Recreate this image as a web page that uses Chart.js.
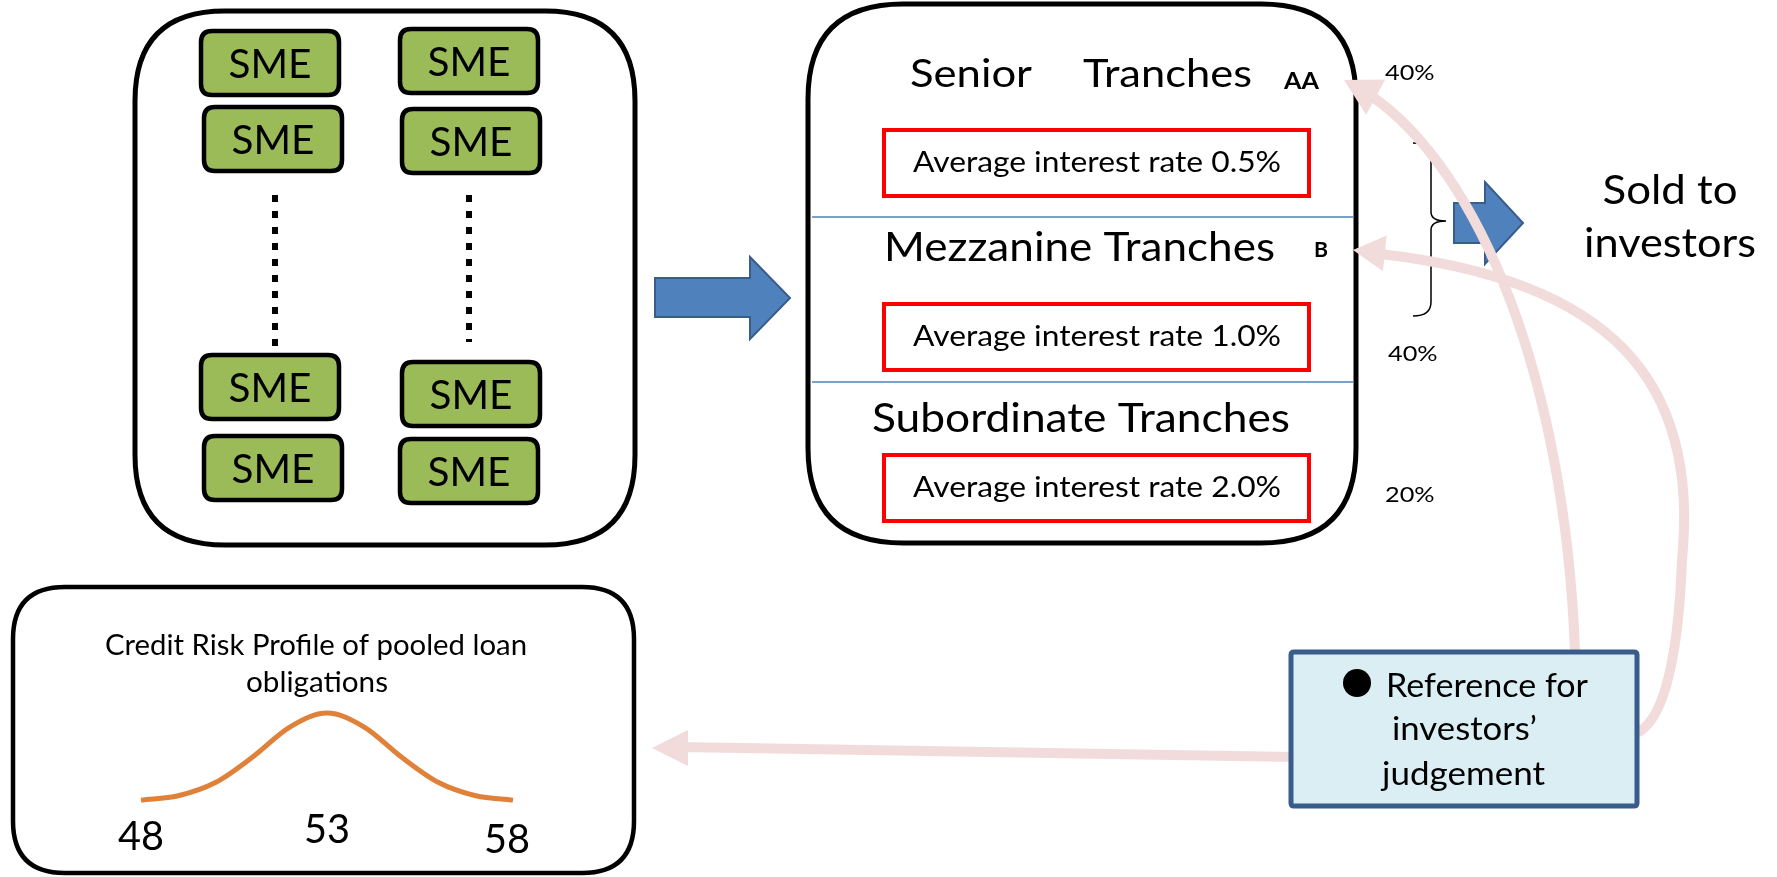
<!DOCTYPE html>
<html>
<head>
<meta charset="utf-8">
<script src="https://cdn.jsdelivr.net/npm/chart.js"></script>
<style>
  body { margin: 0; background: #fff; }
  canvas { display: block; }
</style>
</head>
<body>
<canvas id="myChart" width="1777" height="877"></canvas>
<script>
// credit risk profile of the pooled loans (bell curve)
const riskScores = [48, 49, 50, 51, 52, 53, 54, 55, 56, 57, 58];
const riskDensity = [1, 6, 21, 50, 84, 100, 84, 50, 21, 6, 1];
const riskTicks = [48, 53, 58];

// tranche structure
const trancheNames = ['Senior', 'Mezzanine Tranches', 'Subordinate Tranches'];
const trancheRatings = ['AA', 'B', ''];
const trancheRates = ['0.5', '1.0', '2.0'];
const trancheShares = ['40%', '40%', '20%'];

const FONT = 'Lato, "Open Sans", sans-serif';

function txt(ctx, str, x, y, size, w, opts = {}) {
    ctx.save();
    ctx.font = `${opts.bold ? 'bold ' : ''}${size}px ${FONT}`;
    ctx.fillStyle = opts.color || '#000';
    ctx.textBaseline = 'alphabetic';
    ctx.textAlign = 'left';
    const m = ctx.measureText(str).width;
    let sx = w ? w / m : 1;
    sx = Math.max(0.8, Math.min(1.15, sx));
    const drawnW = m * sx;
    let left = x;
    if (opts.align === 'center') left = x - drawnW / 2;
    ctx.translate(left, y);
    ctx.scale(sx, 1);
    ctx.fillText(str, 0, 0);
    ctx.restore();
}

function roundRect(ctx, x, y, w, h, r) {
    ctx.beginPath();
    ctx.moveTo(x + r, y);
    ctx.lineTo(x + w - r, y);
    ctx.quadraticCurveTo(x + w, y, x + w, y + r);
    ctx.lineTo(x + w, y + h - r);
    ctx.quadraticCurveTo(x + w, y + h, x + w - r, y + h);
    ctx.lineTo(x + r, y + h);
    ctx.quadraticCurveTo(x, y + h, x, y + h - r);
    ctx.lineTo(x, y + r);
    ctx.quadraticCurveTo(x, y, x + r, y);
    ctx.closePath();
}

function blockArrow(ctx, x0, x1, x2, yTop, yShaftTop, yShaftBot, yBot) {
    const yMid = (yTop + yBot) / 2;
    ctx.beginPath();
    ctx.moveTo(x0, yShaftTop);
    ctx.lineTo(x1, yShaftTop);
    ctx.lineTo(x1, yTop);
    ctx.lineTo(x2, yMid);
    ctx.lineTo(x1, yBot);
    ctx.lineTo(x1, yShaftBot);
    ctx.lineTo(x0, yShaftBot);
    ctx.closePath();
    ctx.fillStyle = '#4F81BD';
    ctx.fill();
    ctx.strokeStyle = '#385D8A';
    ctx.lineWidth = 2;
    ctx.stroke();
}

function arrowHead(ctx, tipX, tipY, fromX, fromY, len, half) {
    const dx = tipX - fromX, dy = tipY - fromY;
    const d = Math.hypot(dx, dy);
    const ux = dx / d, uy = dy / d;
    const bx = tipX - ux * len, by = tipY - uy * len;
    ctx.beginPath();
    ctx.moveTo(tipX, tipY);
    ctx.lineTo(bx - uy * half, by + ux * half);
    ctx.lineTo(bx + uy * half, by - ux * half);
    ctx.closePath();
    ctx.fill();
}

const diagram = {
    id: 'diagram',
    beforeDatasetsDraw(chart) {
        const ctx = chart.ctx;
        ctx.save();
        ctx.fillStyle = '#fff';
        ctx.fillRect(0, 0, chart.width, chart.height);

        // pool of SMEs
        ctx.lineWidth = 5;
        ctx.strokeStyle = '#000';
        roundRect(ctx, 135, 11, 500, 534, 90);
        ctx.stroke();

        const smeBoxes = [
            [201, 31], [204, 107], [201, 355], [204, 436],
            [400, 29], [402, 109], [402, 362], [400, 439]
        ];
        smeBoxes.forEach(([x, y]) => {
            roundRect(ctx, x, y, 138, 64, 11);
            ctx.fillStyle = '#9BBB59';
            ctx.fill();
            ctx.lineWidth = 4.5;
            ctx.strokeStyle = '#000';
            ctx.stroke();
            txt(ctx, 'SME', x + 69, y + 47, 41, 83, { align: 'center' });
        });

        ctx.save();
        ctx.strokeStyle = '#000';
        ctx.lineWidth = 6;
        ctx.setLineDash([7, 9]);
        ctx.beginPath();
        ctx.moveTo(275, 195); ctx.lineTo(275, 347);
        ctx.moveTo(469, 195); ctx.lineTo(469, 342);
        ctx.stroke();
        ctx.restore();

        blockArrow(ctx, 655, 750, 790, 257, 278, 317, 339);

        // tranches
        ctx.lineWidth = 5;
        ctx.strokeStyle = '#000';
        roundRect(ctx, 808, 4, 548, 539, 95);
        ctx.stroke();

        ctx.strokeStyle = '#4F81BD';
        ctx.lineWidth = 1.5;
        ctx.beginPath();
        ctx.moveTo(812, 217); ctx.lineTo(1353, 217);
        ctx.moveTo(812, 382); ctx.lineTo(1353, 382);
        ctx.stroke();

        txt(ctx, trancheNames[0], 910, 87, 38, 122);
        txt(ctx, 'Tranches', 1083, 87, 38, 169);
        txt(ctx, trancheNames[1], 884, 261, 40, 391);
        txt(ctx, trancheNames[2], 872, 432, 40, 418);
        txt(ctx, trancheRatings[0], 1284, 89, 22, 35, { bold: true });
        txt(ctx, trancheRatings[1], 1314, 257, 20, 14, { bold: true });

        const redTops = [130, 304, 455];
        redTops.forEach((y, i) => {
            ctx.strokeStyle = '#FF0000';
            ctx.lineWidth = 4;
            ctx.strokeRect(884, y, 425, 66);
            txt(ctx, 'Average interest rate ' + trancheRates[i] + '%', 913, y + 36 + 6, 29, 368);
        });

        txt(ctx, trancheShares[0], 1385, 80, 22, 50);
        txt(ctx, trancheShares[1], 1388, 361, 22, 50);
        txt(ctx, trancheShares[2], 1385, 502, 22, 50);

        // brace
        ctx.strokeStyle = '#000';
        ctx.lineWidth = 1.5;
        ctx.beginPath();
        ctx.moveTo(1413, 143);
        ctx.quadraticCurveTo(1431, 143, 1431, 158);
        ctx.lineTo(1431, 212);
        ctx.quadraticCurveTo(1431, 221, 1446, 221);
        ctx.quadraticCurveTo(1431, 221, 1431, 230);
        ctx.lineTo(1431, 302);
        ctx.quadraticCurveTo(1431, 316, 1413, 316);
        ctx.stroke();

        blockArrow(ctx, 1454, 1485, 1523, 182, 203, 243, 264);

        txt(ctx, 'Sold to', 1670, 204, 41, 135, { align: 'center' });
        txt(ctx, 'investors', 1670, 257, 41, 172, { align: 'center' });

        // pink reference arrows
        ctx.strokeStyle = '#F2DCDB';
        ctx.fillStyle = '#F2DCDB';
        ctx.lineWidth = 10;
        ctx.beginPath();
        ctx.moveTo(1575, 652);
        ctx.bezierCurveTo(1565, 380, 1480, 170, 1370, 95);
        ctx.stroke();
        arrowHead(ctx, 1344, 80, 1394, 107, 36, 20);

        ctx.beginPath();
        ctx.moveTo(1634, 734);
        ctx.quadraticCurveTo(1676, 720, 1682, 560);
        ctx.bezierCurveTo(1700, 380, 1610, 280, 1380, 254);
        ctx.stroke();
        arrowHead(ctx, 1353, 250, 1419, 257, 32, 18);

        ctx.beginPath();
        ctx.moveTo(1295, 757);
        ctx.lineTo(680, 747);
        ctx.stroke();
        arrowHead(ctx, 652, 748, 720, 748, 36, 18);

        // reference box
        ctx.fillStyle = '#DBEEF4';
        ctx.fillRect(1291, 652, 346, 154);
        ctx.strokeStyle = '#385D8A';
        ctx.lineWidth = 5;
        roundRect(ctx, 1291, 652, 346, 154, 3);
        ctx.stroke();
        ctx.fillStyle = '#000';
        ctx.beginPath();
        ctx.arc(1357, 683, 14, 0, Math.PI * 2);
        ctx.fill();
        txt(ctx, 'Reference for', 1386, 697, 32, 202);
        txt(ctx, 'investors\u2019', 1392, 740, 32, 145);
        txt(ctx, 'judgement', 1382, 785, 32, 163);

        // credit risk profile box
        ctx.strokeStyle = '#000';
        ctx.lineWidth = 4.5;
        roundRect(ctx, 13, 587, 621, 286, 52);
        ctx.stroke();
        txt(ctx, 'Credit Risk Profile of pooled loan', 316, 655, 28, 422, { align: 'center' });
        txt(ctx, 'obligations', 317, 692, 28, 142, { align: 'center' });
        ctx.restore();
    },
    afterDatasetsDraw(chart) {
        const ctx = chart.ctx;
        const xs = chart.scales.x;
        const lift = { 48: 850, 53: 843, 58: 853 };
        riskTicks.forEach((v) => {
            const px = xs.getPixelForValue(v);
            txt(ctx, String(v), px + (v === 58 ? -6 : 0), lift[v], 40, 46, { align: 'center' });
        });
    }
};

const ctx = document.getElementById('myChart');

const riskChart = new Chart(ctx, {
    type: 'line',
    data: {
        datasets: [{
            label: 'Credit risk profile',
            data: riskScores.map((s, i) => ({ x: s, y: riskDensity[i] })),
            borderColor: '#E0813A',
            borderWidth: 5,
            pointRadius: 0,
            fill: false,
            cubicInterpolationMode: 'monotone',
            borderCapStyle: 'butt',
            clip: false
        }]
    },
    options: {
        responsive: false,
        animation: false,
        devicePixelRatio: 1,
        layout: {
            padding: { left: 141, right: 1777 - 513, top: 713, bottom: 76 }
        },
        scales: {
            x: { type: 'linear', min: 48, max: 58, display: false },
            y: { min: 0, max: 100, display: false }
        },
        plugins: {
            legend: { display: false },
            tooltip: { enabled: false }
        }
    },
    plugins: [diagram]
});
</script>
</body>
</html>
